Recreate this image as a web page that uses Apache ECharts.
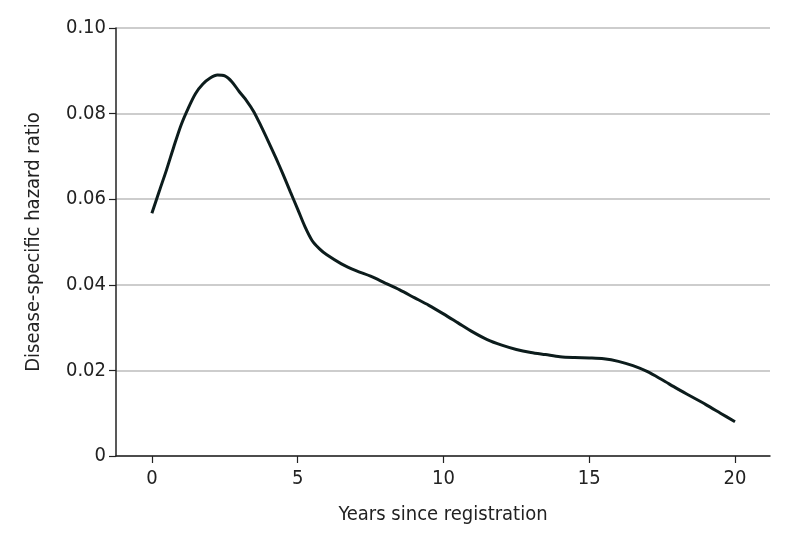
<!DOCTYPE html>
<html>
<head>
<meta charset="utf-8">
<script src="https://cdn.jsdelivr.net/npm/echarts@6/dist/echarts.min.js"></script>
<style>
  html, body { margin: 0; padding: 0; background: #fff; }
  #box1 { width: 794px; height: 544px; }
</style>
</head>
<body>
<div id="box1"></div>
<script>
// years since registration
var years = [0, 0.25, 0.5, 0.75, 1, 1.25, 1.5, 1.75, 2, 2.25, 2.5, 2.75, 3, 3.25, 3.5, 3.75, 4, 4.25, 4.5, 4.75,
             5, 5.25, 5.5, 5.75, 6, 6.5, 7, 7.5, 8, 8.5, 9, 9.5, 10,
             10.5, 11, 11.5, 12, 12.5, 13, 13.5, 14, 14.5, 15, 15.5, 16, 16.5, 17, 17.5, 18, 18.5, 19, 19.5, 20];
// disease-specific hazard ratio
var hazard = [0.0567, 0.0618, 0.0668, 0.0722, 0.0773, 0.0813, 0.0847, 0.0869, 0.0883, 0.0890, 0.0888, 0.0874,
              0.0851, 0.0830, 0.0804, 0.0770, 0.0734, 0.0697, 0.0658, 0.0617,
              0.0577, 0.0536, 0.0503, 0.0484, 0.0470, 0.0449, 0.0433, 0.0420, 0.0404, 0.0388, 0.0370, 0.0352, 0.0332,
              0.0311, 0.0290, 0.0272, 0.0259, 0.0249, 0.0242, 0.0237, 0.0232, 0.0230, 0.0229,
              0.0227, 0.0221, 0.0211, 0.0197, 0.0178, 0.0158, 0.0139, 0.0120, 0.0100, 0.0080];
var xTicks = [0, 5, 10, 15, 20];
var yTicks = [0, 0.02, 0.04, 0.06, 0.08, 0.10];

var points = years.map(function (t, i) { return [t, hazard[i]]; });

var font = '"DejaVu Sans Condensed", "Liberation Sans Narrow", sans-serif';
var myChart1 = echarts.init(document.getElementById('box1'));
var option = {
    backgroundColor: '#fff',
    animation: false,
    grid: {
        left: 116,
        right: 24,
        top: 28,
        bottom: 88,
        containLabel: false
    },
    xAxis: {
        type: 'value',
        min: -1.23,
        max: 21.2,
        name: 'Years since registration',
        nameLocation: 'middle',
        nameGap: 49,
        nameTextStyle: { color: '#222', fontSize: 20, fontFamily: font },
        axisLine: { lineStyle: { color: '#222', width: 1.5 } },
        axisTick: { show: true, length: 7, customValues: xTicks, lineStyle: { color: '#222', width: 1.2 } },
        axisLabel: {
            customValues: xTicks,
            margin: 13,
            color: '#222',
            fontSize: 20,
            fontFamily: font
        },
        splitLine: { show: false }
    },
    yAxis: {
        type: 'value',
        min: 0,
        max: 0.1,
        name: 'Disease-specific hazard ratio',
        nameLocation: 'middle',
        nameGap: 72,
        nameTextStyle: { color: '#222', fontSize: 20, fontFamily: font },
        axisLine: { show: true, onZero: false, lineStyle: { color: '#222', width: 1.5 } },
        axisTick: { show: true, length: 7, customValues: yTicks, lineStyle: { color: '#222', width: 1.2 } },
        axisLabel: {
            customValues: yTicks,
            margin: 10,
            color: '#222',
            fontSize: 20,
            fontFamily: font,
            formatter: function (v) { return v === 0 ? '0' : v.toFixed(2); }
        },
        splitLine: { show: true, lineStyle: { color: '#bdbdbd', width: 1.5 } }
    },
    series: [{
        name: 'hazard',
        type: 'line',
        smooth: 0.3,
        showSymbol: false,
        lineStyle: { color: '#0c1c1c', width: 3 },
        data: points
    }]
};
myChart1.setOption(option);
</script>
</body>
</html>
